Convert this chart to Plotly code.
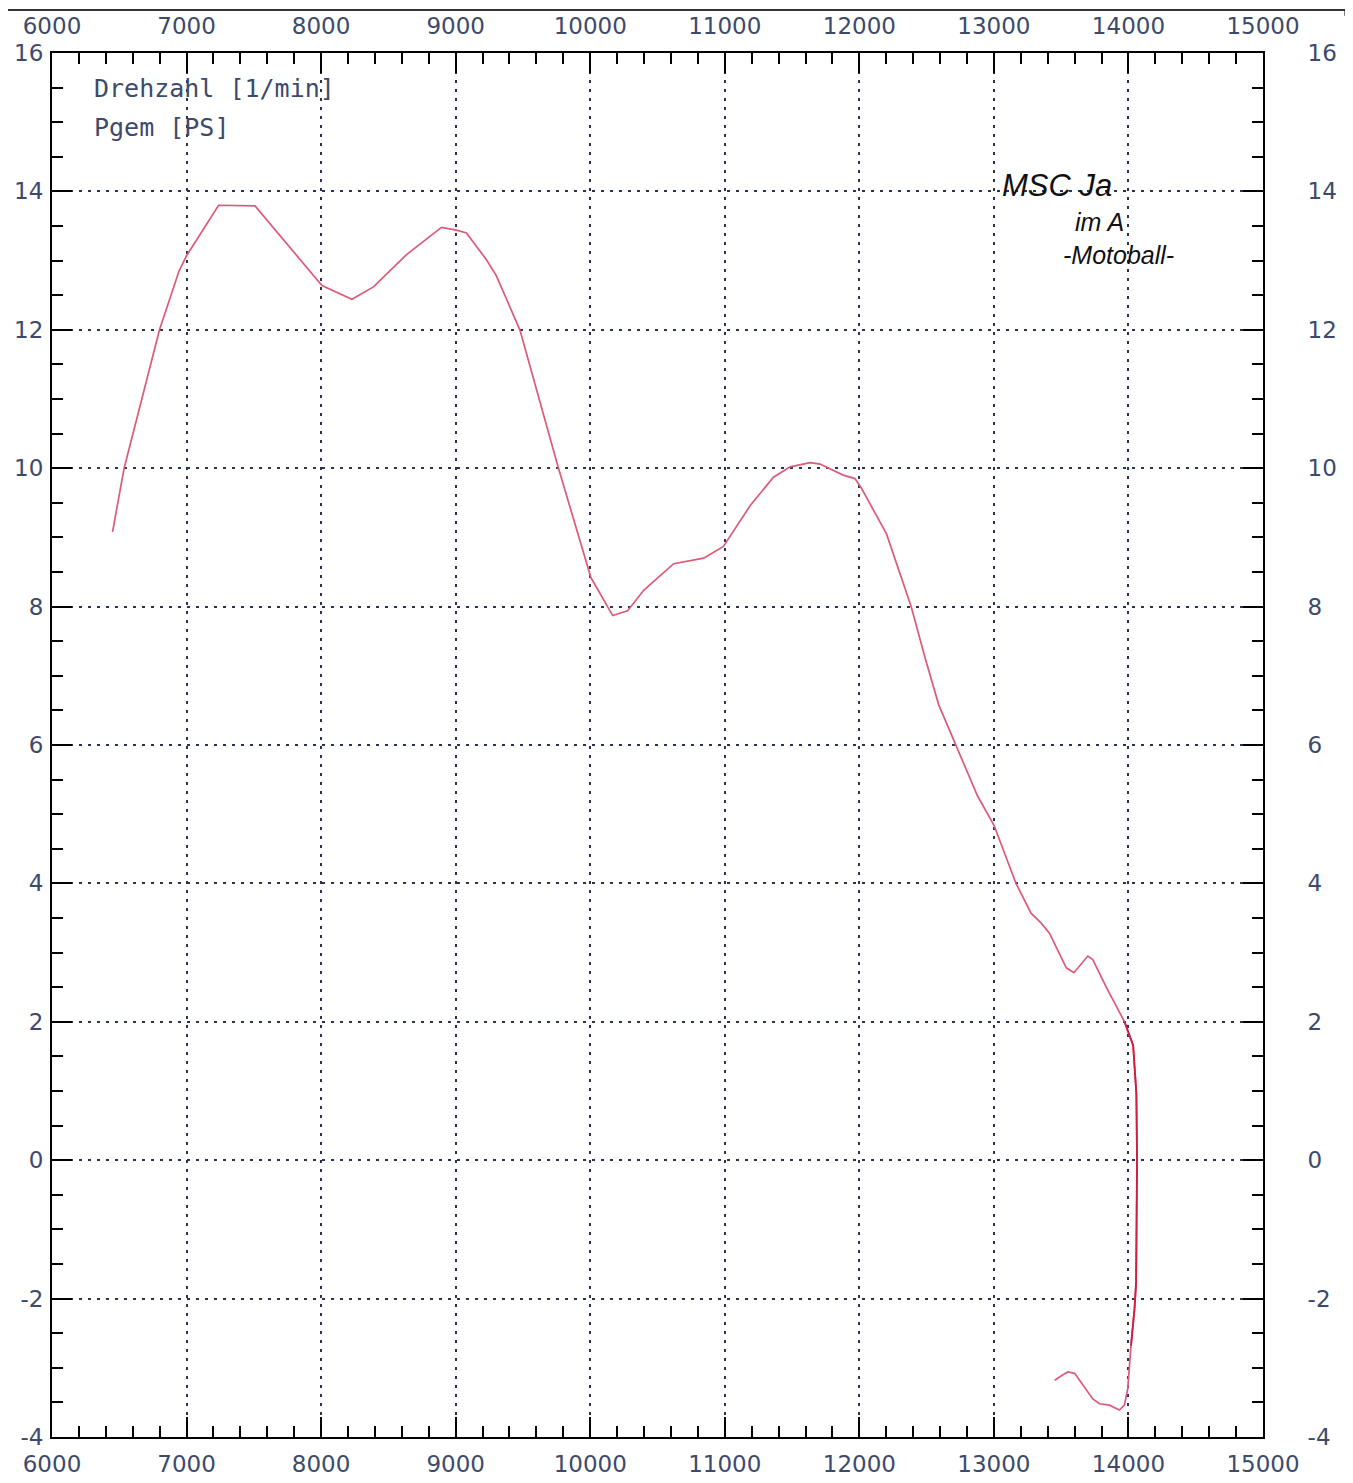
import plotly.graph_objects as go

# Drehzahl [1/min] and Pgem [PS]
rpm = [6450, 6536, 6799, 6944, 7000, 7238, 7509, 8006, 8229, 8389, 8637, 8895,
       9006, 9080, 9226, 9300, 9477, 9764, 10005, 10167, 10278, 10399, 10620,
       10843, 10990, 11189, 11362, 11486, 11634, 11708, 11880, 11967, 12016,
       12202, 12385, 12490, 12590, 12718, 12877, 13001, 13164, 13276, 13350, 13413,
       13538, 13595, 13698, 13735, 13835, 13971, 14035, 14059, 14064, 14057,
       14045, 14019, 13995, 13970, 13933, 13859, 13785, 13735, 13661, 13600,
       13550, 13513, 13452]
pgem = [9.08, 10.0, 12.0, 12.85, 13.07, 13.8, 13.79, 12.64, 12.44, 12.62, 13.09,
        13.48, 13.44, 13.4, 13.02, 12.79, 12.0, 10.0, 8.42, 7.87, 7.94, 8.24,
        8.62, 8.70, 8.87, 9.46, 9.87, 10.02, 10.08, 10.06, 9.90, 9.85, 9.71,
        9.05, 8.0, 7.25, 6.58, 6.0, 5.27, 4.84, 4.0, 3.57, 3.43, 3.28, 2.78, 2.71,
        2.95, 2.90, 2.50, 2.0, 1.66, 0.96, 0.0, -1.77, -2.15, -2.68, -3.30,
        -3.54, -3.61, -3.54, -3.52, -3.45, -3.25, -3.08, -3.06, -3.10, -3.18]

x_range = [6000, 15000]
y_range = [-4, 16]
x_ticks = [6000, 7000, 8000, 9000, 10000, 11000, 12000, 13000, 14000, 15000]
y_ticks = [-4, -2, 0, 2, 4, 6, 8, 10, 12, 14, 16]

label_lines = ["Drehzahl [1/min]", "Pgem [PS]"]
stamp_lines = ["MSC Ja", "im A", "-Motoball-"]

TICK_COLOR = "#3d4a6c"
GRID_COLOR = "#2b3350"
tickfont = dict(family="DejaVu Sans", size=23, color=TICK_COLOR)

# the pen ran darker on the steep run-down section of the trace
steep_start, steep_end = 49, 56

fig = go.Figure()
fig.add_trace(go.Scatter(x=rpm, y=pgem, mode="lines",
                         line=dict(color="#dd5a78", width=1.7),
                         showlegend=False, hoverinfo="skip"))
fig.add_trace(go.Scatter(x=rpm[steep_start:steep_end], y=pgem[steep_start:steep_end],
                         mode="lines", line=dict(color="#d01e40", width=1.9),
                         showlegend=False, hoverinfo="skip"))
# invisible companion trace so the mirrored (top/right) labelled axes are drawn
fig.add_trace(go.Scatter(x=rpm[:1], y=pgem[:1], mode="markers", xaxis="x2", yaxis="y2",
                         marker=dict(opacity=0), showlegend=False, hoverinfo="skip"))

common_x = dict(range=x_range, tickmode="array", tickvals=x_ticks,
                ticktext=[str(v) for v in x_ticks], ticks="inside", ticklen=20,
                tickwidth=1.6, tickcolor="black", showline=True, linecolor="black",
                linewidth=2, tickfont=tickfont, zeroline=False, automargin=False,
                minor=dict(dtick=200, tick0=6000, ticks="inside", ticklen=11,
                           tickwidth=1.5, tickcolor="black", showgrid=False))
common_y = dict(range=y_range, tickmode="array", tickvals=y_ticks,
                ticktext=[str(v) for v in y_ticks], ticks="inside", ticklen=20,
                tickwidth=1.6, tickcolor="black", showline=True, linecolor="black",
                linewidth=2, tickfont=tickfont, zeroline=False, automargin=False,
                minor=dict(dtick=0.5, tick0=0, ticks="inside", ticklen=11,
                           tickwidth=1.5, tickcolor="black", showgrid=False))

# the page adds an 8 px body margin, so the figure is sized/margined to compensate
fig.update_layout(
    width=1345, height=1475,
    margin=dict(l=44, r=90, t=45, b=46),
    paper_bgcolor="white", plot_bgcolor="white",
    xaxis=dict(**common_x, side="bottom", showgrid=True, gridcolor=GRID_COLOR,
               gridwidth=1.5, griddash="3px,6px", ticklabelstandoff=5),
    yaxis=dict(**common_y, side="left", showgrid=True, gridcolor=GRID_COLOR,
               gridwidth=1.5, griddash="3px,6px", ticklabelstandoff=2),
    xaxis2=dict(**common_x, side="top", overlaying="x", showgrid=False,
                ticklabelstandoff=8),
    yaxis2=dict(**common_y, side="right", overlaying="y", showgrid=False,
                ticklabelstandoff=38),
)

# chart legend text (top-left, monospaced plotter font)
for i, t in enumerate(label_lines):
    fig.add_annotation(x=6300, y=15.49 - i * 0.56, xref="x", yref="y", text=t,
                       showarrow=False, xanchor="left", yanchor="middle",
                       font=dict(family="DejaVu Sans Mono", size=25, color=TICK_COLOR))

# partially covered stamp
stamp_pos = [(13043, 14.09, 31), (13590, 13.56, 25), (13500, 13.08, 25)]
for t, (sx, sy, fs) in zip(stamp_lines, stamp_pos):
    fig.add_annotation(x=sx, y=sy, xref="x", yref="y", text="<i>" + t + "</i>",
                       showarrow=False, xanchor="left", yanchor="middle",
                       font=dict(family="Liberation Sans", size=fs, color="#111111"))

# scanned frame edge at the very top of the page
fig.add_shape(type="line", xref="paper", yref="paper", x0=-0.037, x1=1.068,
              y0=1.031, y1=1.031, line=dict(color="#333333", width=2))
fig.add_shape(type="line", xref="paper", yref="paper", x0=1.068, x1=1.068,
              y0=1.031, y1=1.027, line=dict(color="#333333", width=2))

fig.write_html("out.html")
